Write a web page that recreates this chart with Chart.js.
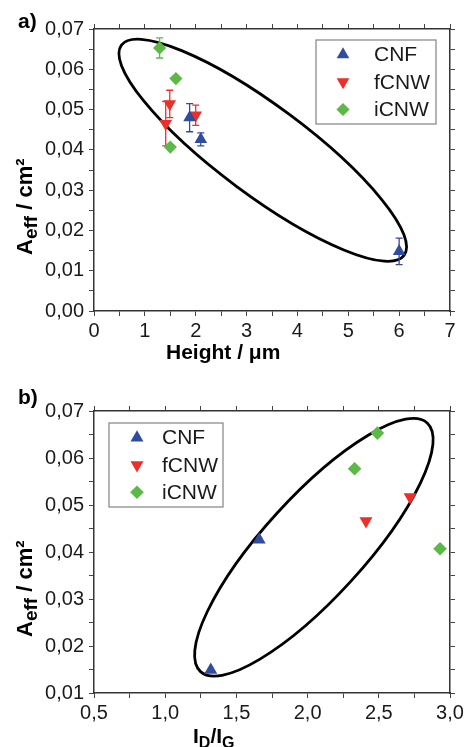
<!DOCTYPE html>
<html>
<head>
<meta charset="utf-8">
<title>Effective area vs. height and I_D/I_G</title>
<script src="https://cdn.jsdelivr.net/npm/chart.js@4.4.0/dist/chart.umd.min.js"></script>
<style>
  html, body { margin: 0; padding: 0; background: #fff; }
  #wrap { position: relative; width: 467px; height: 747px; overflow: hidden; }
  canvas { position: absolute; left: 0; }
  #chartA { top: 0; }
  #chartB { top: 370px; }
</style>
</head>
<body>
<div id="wrap">
  <canvas id="chartA" width="467" height="370"></canvas>
  <canvas id="chartB" width="467" height="377"></canvas>
</div>
<script>
// ---- data ----
const seriesNames = ['CNF', 'fCNW', 'iCNW'];

// a) effective area against film height (µm), with standard deviation
const cnfHeight = [1.88, 2.1, 6.0];
const cnfArea = [0.0480, 0.0426, 0.0148];
const cnfAreaErr = [0.0035, 0.0016, 0.0033];
const fcnwHeight = [1.41, 1.49, 2.0];
const fcnwArea = [0.0465, 0.0514, 0.0486];
const fcnwAreaErr = [0.0055, 0.0034, 0.0025];
const icnwHeight = [1.29, 1.61, 1.50];
const icnwArea = [0.0653, 0.0577, 0.0407];
const icnwAreaErr = [0.0025, 0, 0];

// b) effective area against Raman I_D/I_G ratio
const cnfRatio = [1.32, 1.66];
const cnfRatioArea = [0.0149, 0.0426];
const fcnwRatio = [2.41, 2.72];
const fcnwRatioArea = [0.0466, 0.0517];
const icnwRatio = [2.33, 2.49, 2.93];
const icnwRatioArea = [0.0577, 0.0653, 0.0407];

// tick values and their labels (decimal comma)
const heightTicks = [0, 1, 2, 3, 4, 5, 6, 7];
const heightLabels = ['0', '1', '2', '3', '4', '5', '6', '7'];
const areaTicksA = [0, 0.01, 0.02, 0.03, 0.04, 0.05, 0.06, 0.07];
const areaLabelsA = ['0,00', '0,01', '0,02', '0,03', '0,04', '0,05', '0,06', '0,07'];
const ratioTicks = [0.5, 1.0, 1.5, 2.0, 2.5, 3.0];
const ratioLabels = ['0,5', '1,0', '1,5', '2,0', '2,5', '3,0'];
const areaTicksB = [0.01, 0.02, 0.03, 0.04, 0.05, 0.06, 0.07];
const areaLabelsB = ['0,01', '0,02', '0,03', '0,04', '0,05', '0,06', '0,07'];

// group outlines: centre, end of long axis, end of short axis (data units)
const outlineA = { center: [3.318, 0.0399], major: [0.539, 0.0660], minor: [3.841, 0.0488] };
const outlineB = { center: [2.044, 0.0410], major: [2.840, 0.06745], minor: [2.305, 0.0338] };

const BLUE = '#2f4c9f';
const RED = '#ec2f29';
const GREEN = '#5cb947';
const FONT = "'Liberation Sans', Arial, sans-serif";

Chart.defaults.font.family = FONT;
Chart.defaults.color = '#1a1a1a';

function toPoints(xs, ys) {
  return xs.map((x, i) => ({ x: x, y: ys[i] }));
}

// majors get a label, a half-step minor tick sits between each pair
function withMinors(majors) {
  const out = [];
  majors.forEach((m, i) => {
    out.push(m);
    if (i < majors.length - 1) out.push((m + majors[i + 1]) / 2);
  });
  return out;
}

function axis(position, majors, labels, size, showLabels) {
  const fitKey = (position === 'left' || position === 'right') ? 'width' : 'height';
  return {
    type: 'linear',
    position: position,
    min: majors[0],
    max: majors[majors.length - 1],
    afterBuildTicks: s => { s.ticks = withMinors(majors).map(v => ({ value: v })); },
    afterFit: s => { s[fitKey] = size; },
    border: { display: true, color: '#333', width: 1.5 },
    grid: { display: true, drawOnChartArea: false, drawTicks: true, tickLength: 5, color: '#444', lineWidth: 1 },
    ticks: {
      display: showLabels,
      autoSkip: false,
      maxRotation: 0,
      padding: fitKey === 'width' ? 5 : 3,
      font: { size: 20 },
      color: '#1a1a1a',
      callback: v => {
        const i = majors.findIndex(m => Math.abs(m - v) < 1e-9);
        return i >= 0 ? labels[i] : '';
      }
    }
  };
}

// ---- plugins ----
const groupOutline = {
  id: 'groupOutline',
  beforeDatasetsDraw(chart, args, opts) {
    const e = opts.shape;
    if (!e) return;
    const xs = chart.scales.x, ys = chart.scales.y;
    const cx = xs.getPixelForValue(e.center[0]);
    const cy = ys.getPixelForValue(e.center[1]);
    const mx = xs.getPixelForValue(e.major[0]) - cx;
    const my = ys.getPixelForValue(e.major[1]) - cy;
    const nx = xs.getPixelForValue(e.minor[0]) - cx;
    const ny = ys.getPixelForValue(e.minor[1]) - cy;
    const ctx = chart.ctx;
    ctx.save();
    ctx.beginPath();
    ctx.ellipse(cx, cy, Math.hypot(mx, my), Math.hypot(nx, ny), Math.atan2(my, mx), 0, Math.PI * 2);
    ctx.lineWidth = 2.8;
    ctx.strokeStyle = '#000';
    ctx.stroke();
    ctx.restore();
  }
};

const errorBars = {
  id: 'errorBars',
  beforeDatasetsDraw(chart) {
    const ctx = chart.ctx, ys = chart.scales.y;
    chart.data.datasets.forEach((ds, i) => {
      if (!ds.errors) return;
      const meta = chart.getDatasetMeta(i);
      ctx.save();
      ctx.strokeStyle = ds.borderColor;
      ctx.lineWidth = 1.3;
      meta.data.forEach((pt, j) => {
        const err = ds.errors[j];
        if (!err) return;
        const v = ds.data[j].y;
        const top = ys.getPixelForValue(v + err);
        const bot = ys.getPixelForValue(v - err);
        ctx.beginPath();
        ctx.moveTo(pt.x, top); ctx.lineTo(pt.x, bot);
        ctx.moveTo(pt.x - 3.5, top); ctx.lineTo(pt.x + 3.5, top);
        ctx.moveTo(pt.x - 3.5, bot); ctx.lineTo(pt.x + 3.5, bot);
        ctx.stroke();
      });
      ctx.restore();
    });
  }
};

const boxLegend = {
  id: 'boxLegend',
  afterDraw(chart, args, opts) {
    const ctx = chart.ctx;
    const b = opts.box;
    ctx.save();
    ctx.fillStyle = '#fff';
    ctx.fillRect(b[0], b[1], b[2], b[3]);
    ctx.strokeStyle = '#8c8c8c';
    ctx.lineWidth = 1.3;
    ctx.strokeRect(b[0], b[1], b[2], b[3]);
    chart.data.datasets.forEach((ds, i) => {
      const y = opts.firstRow + i * opts.rowGap;
      ctx.fillStyle = ds.backgroundColor;
      Chart.helpers.drawPoint(ctx, {
        pointStyle: ds.pointStyle,
        rotation: ds.pointRotation || 0,
        radius: ds.pointRadius,
        borderWidth: 0
      }, opts.markerX, y);
      ctx.fillStyle = '#1a1a1a';
      ctx.font = '21px ' + FONT;
      ctx.textBaseline = 'middle';
      ctx.textAlign = 'left';
      ctx.fillText(ds.label, opts.textX, y + 1);
    });
    ctx.restore();
  }
};

// axis titles with sub/superscripts, drawn as runs of text
function drawRuns(ctx, runs) {
  let x = 0;
  runs.forEach(r => {
    ctx.font = 'bold ' + r.size + 'px ' + FONT;
    ctx.fillText(r.text, x, r.dy || 0);
    x += ctx.measureText(r.text).width;
  });
}

const axisTitles = {
  id: 'axisTitles',
  afterDraw(chart, args, opts) {
    const ctx = chart.ctx;
    ctx.save();
    ctx.fillStyle = '#000';
    ctx.textBaseline = 'alphabetic';
    ctx.textAlign = 'left';

    ctx.font = 'bold 21px ' + FONT;
    ctx.fillText(opts.panel, 18, opts.panelY);

    // y title, reading upwards
    ctx.save();
    ctx.translate(opts.yTitle[0], opts.yTitle[1]);
    ctx.rotate(-Math.PI / 2);
    drawRuns(ctx, [
      { text: 'A', size: 22 },
      { text: 'eff', size: 19, dy: 5 },
      { text: ' / cm²', size: 22 }
    ]);
    ctx.restore();

    ctx.save();
    ctx.translate(opts.xTitle[0], opts.xTitle[1]);
    drawRuns(ctx, opts.xRuns);
    ctx.restore();
    ctx.restore();
  }
};

function dataset(label, xs, ys, style, color, radius, errors) {
  const ds = {
    label: label,
    data: toPoints(xs, ys),
    pointStyle: style === 'down' ? 'triangle' : style,
    pointRotation: style === 'down' ? 180 : 0,
    pointRadius: radius,
    pointHoverRadius: radius,
    backgroundColor: color,
    borderColor: color,
    borderWidth: 0,
    showLine: false
  };
  if (errors) ds.errors = errors;
  return ds;
}

// ---- panel a ----
new Chart(document.getElementById('chartA'), {
  type: 'scatter',
  data: {
    datasets: [
      dataset(seriesNames[0], cnfHeight, cnfArea, 'triangle', BLUE, 7.3, cnfAreaErr),
      dataset(seriesNames[1], fcnwHeight, fcnwArea, 'down', RED, 7.3, fcnwAreaErr),
      dataset(seriesNames[2], icnwHeight, icnwArea, 'rectRot', GREEN, 6.6, icnwAreaErr)
    ]
  },
  options: {
    responsive: false,
    animation: false,
    layout: { padding: 0 },
    scales: {
      x: axis('bottom', heightTicks, heightLabels, 59, true),
      x2: axis('top', heightTicks, heightLabels, 29, false),
      y: axis('left', areaTicksA, areaLabelsA, 94, true),
      y2: axis('right', areaTicksA, areaLabelsA, 17, false)
    },
    plugins: {
      legend: { display: false },
      tooltip: { enabled: false },
      groupOutline: { shape: outlineA },
      boxLegend: { box: [316, 40, 120, 84], markerX: 343, textX: 374, firstRow: 54.5, rowGap: 27.5 },
      axisTitles: {
        panel: 'a)', panelY: 28,
        yTitle: [32, 255],
        xTitle: [166, 359],
        xRuns: [{ text: 'Height / μm', size: 21 }]
      }
    }
  },
  plugins: [groupOutline, errorBars, boxLegend, axisTitles]
});

// ---- panel b ----
new Chart(document.getElementById('chartB'), {
  type: 'scatter',
  data: {
    datasets: [
      dataset(seriesNames[0], cnfRatio, cnfRatioArea, 'triangle', BLUE, 7.5),
      dataset(seriesNames[1], fcnwRatio, fcnwRatioArea, 'down', RED, 7.5),
      dataset(seriesNames[2], icnwRatio, icnwRatioArea, 'rectRot', GREEN, 6.8)
    ]
  },
  options: {
    responsive: false,
    animation: false,
    layout: { padding: 0 },
    scales: {
      x: axis('bottom', ratioTicks, ratioLabels, 54, true),
      x2: axis('top', ratioTicks, ratioLabels, 41, false),
      y: axis('left', areaTicksB, areaLabelsB, 94, true),
      y2: axis('right', areaTicksB, areaLabelsB, 17, false)
    },
    plugins: {
      legend: { display: false },
      tooltip: { enabled: false },
      groupOutline: { shape: outlineB },
      boxLegend: { box: [109, 53, 114, 84], markerX: 137, textX: 162, firstRow: 67.7, rowGap: 27.3 },
      axisTitles: {
        panel: 'b)', panelY: 34,
        yTitle: [32, 267],
        xTitle: [193, 373],
        xRuns: [
          { text: 'I', size: 21 },
          { text: 'D', size: 16, dy: 5 },
          { text: '/I', size: 21 },
          { text: 'G', size: 16, dy: 5 }
        ]
      }
    }
  },
  plugins: [groupOutline, errorBars, boxLegend, axisTitles]
});
</script>
</body>
</html>
